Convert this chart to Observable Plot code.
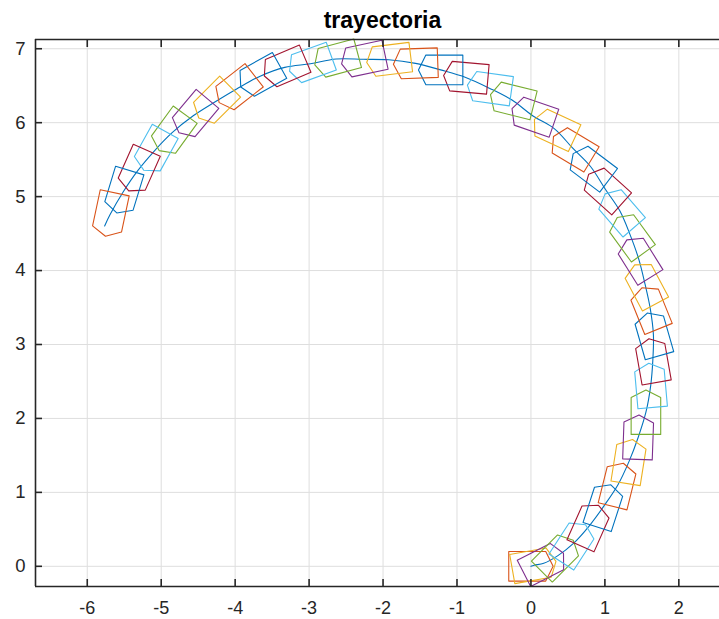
<!DOCTYPE html>
<html><head><meta charset="utf-8">
<script src="https://cdn.jsdelivr.net/npm/d3@7"></script>
<script src="https://cdn.jsdelivr.net/npm/@observablehq/plot@0.6"></script>
<style>body{margin:0;background:#fff}</style>
</head><body><div id="chart"></div>
<script>
// trajectory points (pose points of each pentagon, plus the final end point)
const trajX = [0, 0.043, 0.173, 0.360, 0.575, 0.792, 0.988, 1.177, 1.327, 1.451, 1.555, 1.620, 1.648, 1.656, 1.613, 1.544, 1.456, 1.344, 1.200, 1.004, 0.811, 0.562, 0.319, 0.028, -0.256, -0.562, -0.882, -1.221, -1.560, -1.923, -2.267, -2.633, -2.982, -3.329, -3.662, -3.980, -4.280, -4.567, -4.852, -5.091, -5.317, -5.513, -5.691, -5.765];
const trajY = [0, 0.015, 0.041, 0.141, 0.310, 0.551, 0.817, 1.103, 1.419, 1.746, 2.084, 2.448, 2.782, 3.137, 3.489, 3.812, 4.161, 4.476, 4.811, 5.103, 5.401, 5.658, 5.917, 6.091, 6.306, 6.467, 6.612, 6.714, 6.802, 6.851, 6.857, 6.861, 6.798, 6.748, 6.629, 6.456, 6.276, 6.093, 5.865, 5.620, 5.352, 5.066, 4.758, 4.604];
// heading of each pentagon (degrees)
const headingDeg = [0, 10, 27, 45, 57, 66, 72, 76, 81, 88, 90, 95, 100, 106, 112, 118, 122, 126, 131, 138, 143, 149, 155, 161, 166, 172, 175, 180, 182, 187, 192, 195, 200, 203, 209, 218, 225, 230, 234, 241, 246, 253, 258];
const colorOrder = ["#0072BD", "#D95319", "#EDB120", "#7E2F8E", "#77AC30", "#4DBEEE", "#A2142F"];
const xTicks = [-6, -5, -4, -3, -2, -1, 0, 1, 2];
const yTicks = [0, 1, 2, 3, 4, 5, 6, 7];
const xDomain = [-6.70, 2.55];
const yDomain = [-0.273, 7.125];
const titleText = "trayectoria";
// robot outline in its own frame
const shape = [[-0.3, -0.2], [0.2, -0.2], [0.3, 0], [0.2, 0.2], [-0.3, 0.2], [-0.3, -0.2]];

const path = trajX.map((x, i) => ({x, y: trajY[i]}));
const poly = [];
headingDeg.forEach((deg, i) => {
  const a = deg * Math.PI / 180, c = Math.cos(a), s = Math.sin(a);
  const color = colorOrder[(i + 1) % colorOrder.length];
  shape.forEach(([u, v]) => poly.push({id: i, color, x: trajX[i] + u * c - v * s, y: trajY[i] + u * s + v * c}));
});

const axisColor = "#262626";
const plot = Plot.plot({
  width: 719, height: 619,
  marginLeft: 35, marginRight: 0, marginTop: 39, marginBottom: 33,
  x: {domain: xDomain, label: null},
  y: {domain: yDomain, label: null},
  color: {type: "identity"},
  style: {fontFamily: "'Liberation Sans', Arial, Helvetica, sans-serif", fontSize: "18px", background: "white", color: axisColor},
  marks: [
    Plot.gridX(xTicks, {stroke: "#dedede", strokeOpacity: 1}),
    Plot.gridY(yTicks, {stroke: "#dedede", strokeOpacity: 1}),
    Plot.line(path, {x: "x", y: "y", stroke: colorOrder[0], strokeWidth: 1.1, curve: "catmull-rom"}),
    Plot.line(poly, {x: "x", y: "y", z: "id", stroke: "color", strokeWidth: 1.1}),
    Plot.ruleY([yDomain[0]], {stroke: axisColor, strokeWidth: 1.6}),
    Plot.ruleY([yDomain[1]], {stroke: axisColor, strokeWidth: 1.6}),
    Plot.ruleX([xDomain[0]], {stroke: axisColor, strokeWidth: 1.6}),
    Plot.axisX(xTicks, {anchor: "bottom", tickSize: -7, fill: "none", stroke: axisColor, strokeWidth: 1.6, label: null}),
    Plot.axisX(xTicks, {anchor: "top", tickSize: -7, fill: "none", stroke: axisColor, strokeWidth: 1.6, label: null}),
    Plot.axisY(yTicks, {anchor: "left", tickSize: -7, fill: "none", stroke: axisColor, strokeWidth: 1.6, label: null}),
    Plot.axisX(xTicks, {anchor: "bottom", tickSize: 0, tickPadding: 15, fontSize: 18, fill: axisColor, tickFormat: d => String(d), label: null}),
    Plot.axisY(yTicks, {anchor: "left", tickSize: 0, tickPadding: 10, fontSize: 18.5, fill: axisColor, tickFormat: d => String(d), label: null}),
    Plot.text([titleText], {frameAnchor: "top", dy: -12, dx: 5, lineAnchor: "bottom", fontWeight: "bold", fontSize: 23, fill: "#000"})
  ]
});
document.getElementById("chart").appendChild(plot);
</script>
</body></html>
